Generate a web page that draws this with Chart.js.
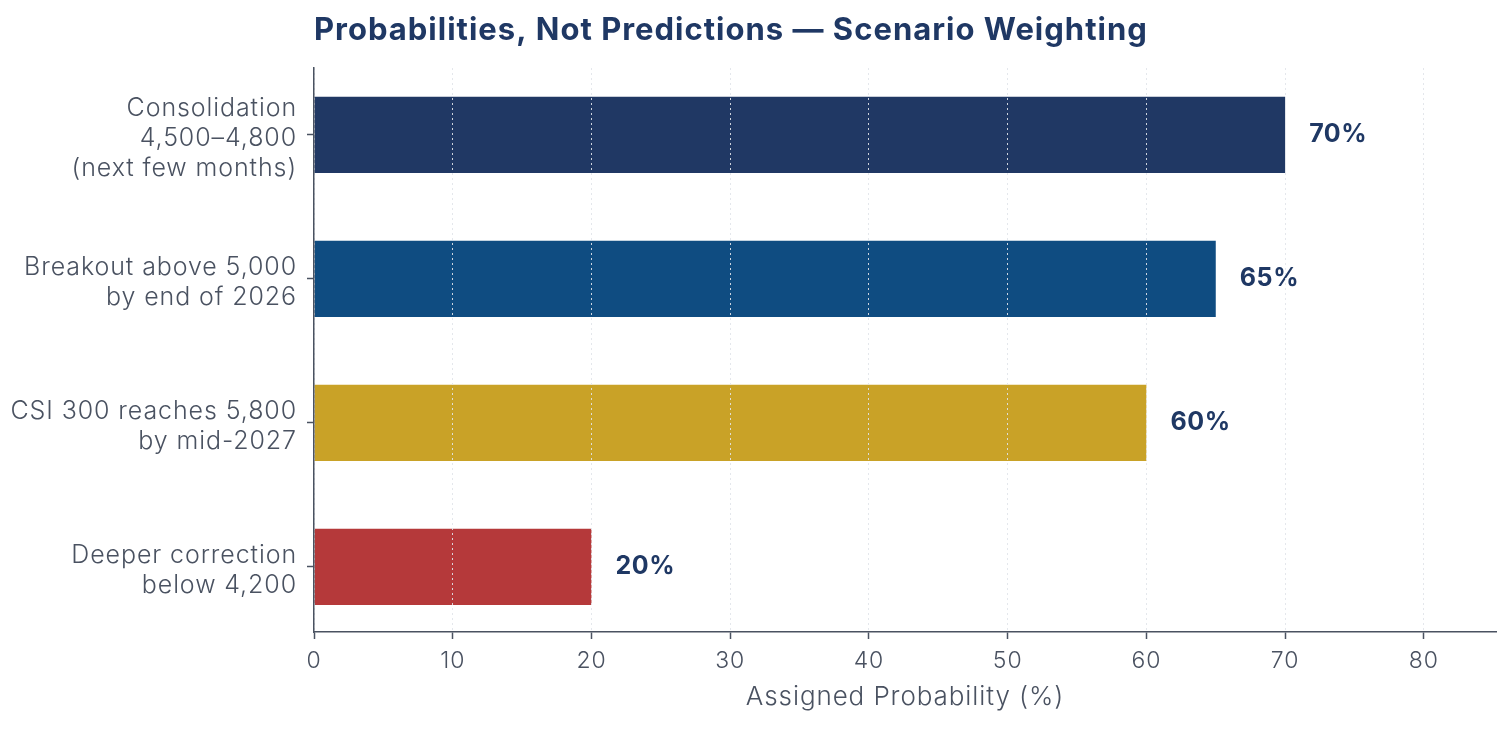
<!DOCTYPE html>
<html>
<head>
<meta charset="utf-8">
<script src="https://cdn.jsdelivr.net/npm/chart.js@4.4.1/dist/chart.umd.min.js"></script>
<style>
  html, body { margin: 0; padding: 0; background: #fff; }
  #wrap { width: 1512px; height: 731px; }
</style>
</head>
<body>
<div id="wrap"><canvas id="scenarioChart" width="1512" height="731"></canvas></div>
<script>
// данные сценариев
const scenarioLabels = [
    ['Consolidation', '4,500\u20134,800', '(next few months)'],
    ['Breakout above 5,000', 'by end of 2026'],
    ['CSI 300 reaches 5,800', 'by mid-2027'],
    ['Deeper correction', 'below 4,200']
];
const scenarioValues = [70, 65, 60, 20];
const scenarioColors = ['#203864', '#0f4c81', '#c9a227', '#b5393a'];
const xTicks = [0, 10, 20, 30, 40, 50, 60, 70, 80];

const titleText = 'Probabilities, Not Predictions \u2014 Scenario Weighting';
const navy = '#1f3864';
const axisGray = '#4a5261';
const fontFamily = '"Inter", "Lato", sans-serif';

// разрядка букв для всего текста
const spacingPlugin = {
    id: 'letterSpacing',
    beforeUpdate(chart) { chart.ctx.letterSpacing = '0.9px'; },
    beforeDraw(chart) { chart.ctx.letterSpacing = '0.9px'; }
};

// заголовок над областью графика
const titlePlugin = {
    id: 'leftTitle',
    afterDraw(chart) {
        const ctx = chart.ctx;
        ctx.save();
        ctx.font = 'bold 31px ' + fontFamily;
        ctx.letterSpacing = '1px';
        ctx.fillStyle = navy;
        ctx.textAlign = 'left';
        ctx.textBaseline = 'middle';
        ctx.fillText(titleText, chart.chartArea.left, 31);
        ctx.restore();
    }
};

// подписи значений справа от столбцов
const valueLabelPlugin = {
    id: 'valueLabels',
    afterDatasetsDraw(chart) {
        const ctx = chart.ctx;
        const meta = chart.getDatasetMeta(0);
        ctx.save();
        ctx.font = 'bold 25px ' + fontFamily;
        ctx.letterSpacing = '0.6px';
        ctx.fillStyle = navy;
        ctx.textAlign = 'left';
        ctx.textBaseline = 'middle';
        meta.data.forEach(function(bar, i) {
            ctx.fillText(scenarioValues[i] + '%', bar.x + 24, bar.y);
        });
        ctx.restore();
    }
};

new Chart(document.getElementById('scenarioChart'), {
    type: 'bar',
    data: {
        labels: scenarioLabels,
        datasets: [{
            data: scenarioValues,
            backgroundColor: scenarioColors,
            borderWidth: 0,
            barPercentage: 0.53,
            categoryPercentage: 1.0
        }]
    },
    options: {
        indexAxis: 'y',
        responsive: false,
        animation: false,
        layout: { padding: { top: 68, right: 16, bottom: 14, left: 0 } },
        plugins: {
            legend: { display: false },
            tooltip: { enabled: false }
        },
        scales: {
            x: {
                min: 0,
                max: 85.2,
                afterBuildTicks(scale) {
                    scale.ticks = xTicks.map(v => ({ value: v }));
                },
                afterFit(scale) { scale.height = 85; },
                border: { display: true, color: axisGray, width: 1.5, dash: [2, 3], z: 2 },
                grid: {
                    z: 1,
                    color: 'rgba(225,228,234,0.9)',
                    lineWidth: 1,
                    tickLength: 7,
                    tickColor: axisGray,
                    tickWidth: 1.5,
                    tickBorderDash: []
                },
                ticks: {
                    color: axisGray,
                    font: { family: fontFamily, size: 23, weight: '300' },
                    padding: 8
                },
                title: {
                    display: true,
                    text: 'Assigned Probability (%)',
                    color: axisGray,
                    font: { family: fontFamily, size: 26, weight: '300' },
                    padding: { top: 4 }
                }
            },
            y: {
                // немного больше поля сверху/снизу, как в исходнике
                afterBuildTicks(scale) {
                    scale.ticks = scenarioLabels.map((l, i) => ({ value: i }));
                    scale._startValue = -0.465;
                    scale._valueRange = 3.917;
                },
                afterFit(scale) { scale.width = 314; },
                border: { display: true, color: axisGray, width: 1.5, z: 2 },
                grid: {
                    offset: false,
                    drawOnChartArea: false,
                    tickLength: 7,
                    tickColor: axisGray,
                    tickWidth: 1.5
                },
                ticks: {
                    color: axisGray,
                    font: { family: fontFamily, size: 25, weight: '300', lineHeight: 1.2 },
                    padding: 10,
                    labelOffset: 4
                }
            }
        }
    },
    plugins: [spacingPlugin, titlePlugin, valueLabelPlugin]
});
</script>
</body>
</html>
